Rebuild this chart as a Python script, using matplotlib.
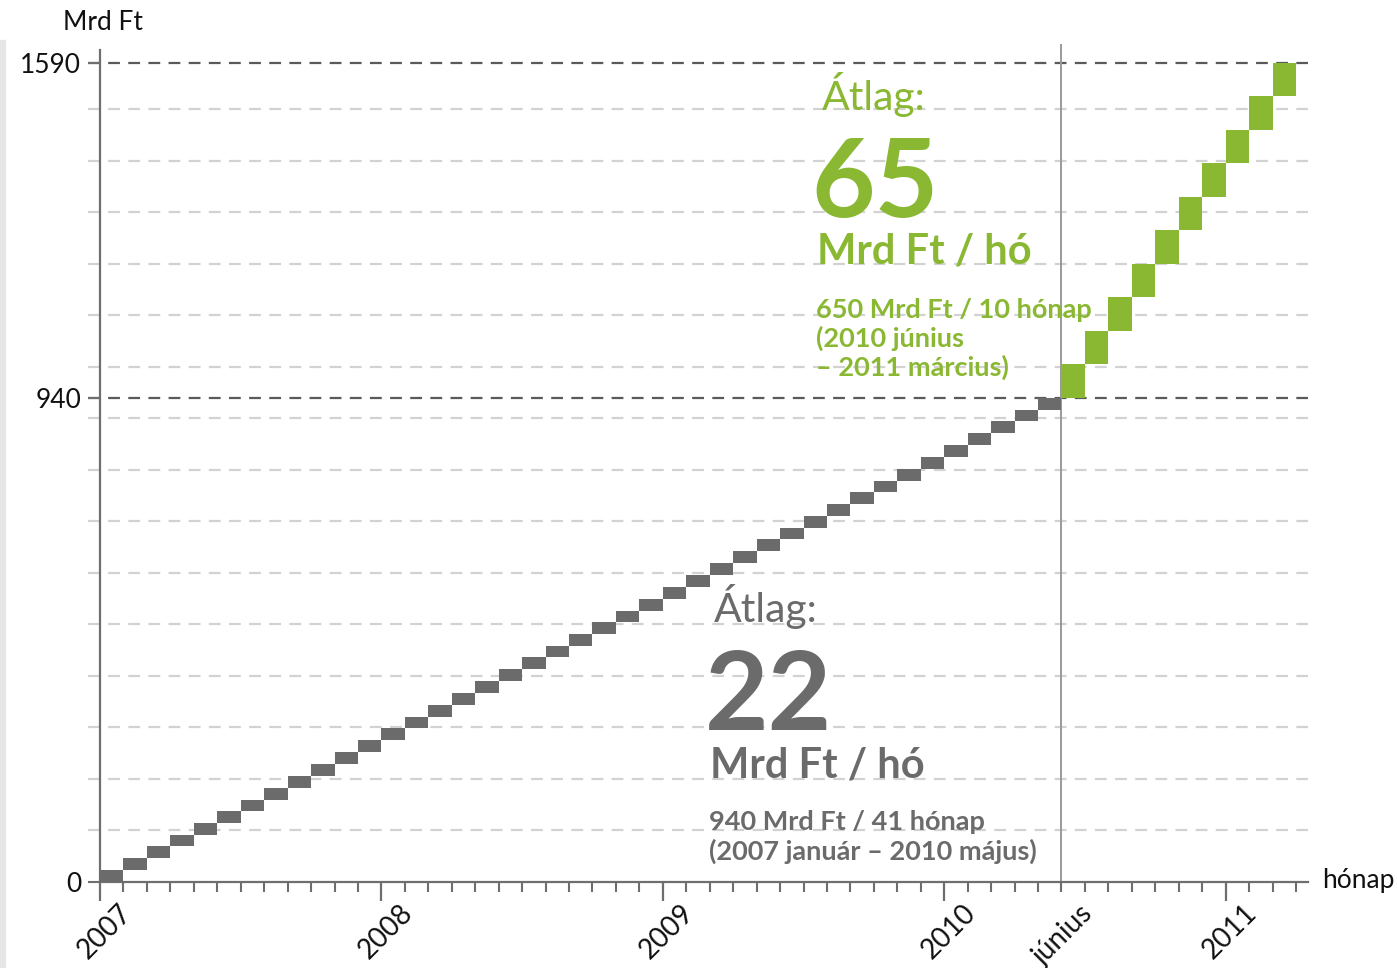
import numpy as np
import matplotlib
matplotlib.use("Agg")
import matplotlib.pyplot as plt
from matplotlib.transforms import offset_copy
from matplotlib.patches import Rectangle

plt.rcParams['font.family'] = ['Lato', 'DejaVu Sans']
plt.rcParams['lines.scale_dashes'] = False

# adatok: kumulált összeg (Mrd Ft) havonta
gray_top = [23, 46, 69, 92, 115, 138, 160, 183, 206, 229, 252, 275, 298, 321,
            344, 367, 390, 413, 436, 459, 481, 504, 527, 550, 573, 596, 619,
            642, 665, 688, 711, 734, 757, 779, 802, 825, 848, 871, 894, 917, 940]
green_top = [1005, 1070, 1135, 1200, 1265, 1330, 1395, 1460, 1525, 1590]

label_pos = [0, 12, 24, 36, 41, 48]
labels = ['2007', '2008', '2009', '2010', 'június', '2011']
year_ticks = [0, 12, 24, 36, 48]
y_ticks = [0, 940, 1590]
grid_light = [100, 200, 300, 400, 500, 600, 700, 800, 900,
              1000, 1100, 1200, 1300, 1400, 1500]

GRAY = '#6b6b6b'
GREEN = '#8ab833'
AXC = '#6e6e6e'

W, H = 1397, 968
fig = plt.figure(figsize=(W / 100, H / 100), dpi=100)
ax = fig.add_axes([100 / W, 86 / H, 1207.7 / W, 832 / H])
ax.set_xlim(0, 51.5)
ax.set_ylim(0, 1615)

# rácsvonalak
for g in grid_light:
    ax.plot([-0.5, 51.5], [g, g], color='#d2d2d2', lw=1.6,
            dashes=(8.5, 6), clip_on=False, zorder=1)
for g in [940, 1590]:
    ax.plot([-0.5, 51.5], [g, g], color='#5a5a5a', lw=1.6,
            dashes=(8.5, 6), clip_on=False, zorder=1)

# június függőleges vonal
ax.plot([41, 41], [0, 1625], color='#9a9a9a', lw=1.4, clip_on=False, zorder=1)

# lépcsők
gt = np.array(gray_top)
gb = np.concatenate([[0], gt[:-1]])
ax.bar(np.arange(len(gt)), gt - gb, bottom=gb, width=1, align='edge',
       color=GRAY, zorder=3, linewidth=0)
nt = np.array(green_top)
nb = np.concatenate([[gt[-1]], nt[:-1]])
ax.bar(len(gt) + np.arange(len(nt)), nt - nb, bottom=nb, width=1, align='edge',
       color=GREEN, zorder=3, linewidth=0)

# tengelyek
for s in ['top', 'right']:
    ax.spines[s].set_visible(False)
for s in ['left', 'bottom']:
    ax.spines[s].set_color(AXC)
    ax.spines[s].set_linewidth(1.6)
ax.spines['left'].set_bounds(0, 1615)

ax.set_yticks(y_ticks)
ax.set_yticklabels([str(v) for v in y_ticks], fontsize=19, color='#111111')
ax.tick_params(axis='y', length=8.5, width=1.5, color=AXC, pad=5)

ax.set_xticks(year_ticks)
ax.set_xticklabels([''] * len(year_ticks))
ax.set_xticks(np.arange(0, 52), minor=True)
ax.tick_params(axis='x', which='major', length=14, width=1.6, color=AXC)
ax.tick_params(axis='x', which='minor', length=7.5, width=1.5, color=AXC)

tr = offset_copy(ax.get_xaxis_transform(), fig=fig, x=13, y=-13, units='points')
for xv, lab in zip(label_pos, labels):
    ax.text(xv, 0, lab, transform=tr, rotation=45, rotation_mode='anchor',
            ha='right', va='top', fontsize=20, color='#111111')

fig.text(63 / W, 1 - 30 / H, 'Mrd Ft', fontsize=19, color='#111111')
fig.text(1322 / W, 1 - 888 / H, 'hónap', fontsize=19, color='#111111')


def px(x, y):
    return x / W, 1 - y / H


# zöld szöveg
fig.text(*px(822, 110), 'Átlag:', fontsize=29.5, color=GREEN)
fig.text(*px(811, 217), '65', fontsize=79, fontweight='bold', color=GREEN)
fig.text(*px(817, 263), 'Mrd Ft / hó', fontsize=30, fontweight='bold', color=GREEN)
fig.text(*px(816, 318), '650 Mrd Ft / 10 hónap', fontsize=19.5, fontweight='bold',
         color=GREEN, zorder=5)
fig.text(*px(816, 347), '(2010 június', fontsize=19.5, fontweight='bold', color=GREEN)
fig.text(*px(816, 376), '– 2011 március)', fontsize=19.5, fontweight='bold', color=GREEN)

# szürke szöveg
fig.text(*px(714, 622), 'Átlag:', fontsize=29.5, color=GRAY)
fig.text(*px(705, 730), '22', fontsize=79, fontweight='bold', color=GRAY)
fig.text(*px(710, 777), 'Mrd Ft / hó', fontsize=30, fontweight='bold', color=GRAY)
fig.text(*px(709, 830), '940 Mrd Ft / 41 hónap', fontsize=19.5, fontweight='bold',
         color=GRAY)
fig.text(*px(709, 860), '(2007 január – 2010 május)', fontsize=19.5, fontweight='bold',
         color=GRAY)

# bal oldali szürke sáv
fig.patches.append(Rectangle((0, 0), 5 / W, 1 - 40 / H, transform=fig.transFigure,
                             color='#e6e6e6', zorder=0))

fig.savefig('out.png', dpi=100)
